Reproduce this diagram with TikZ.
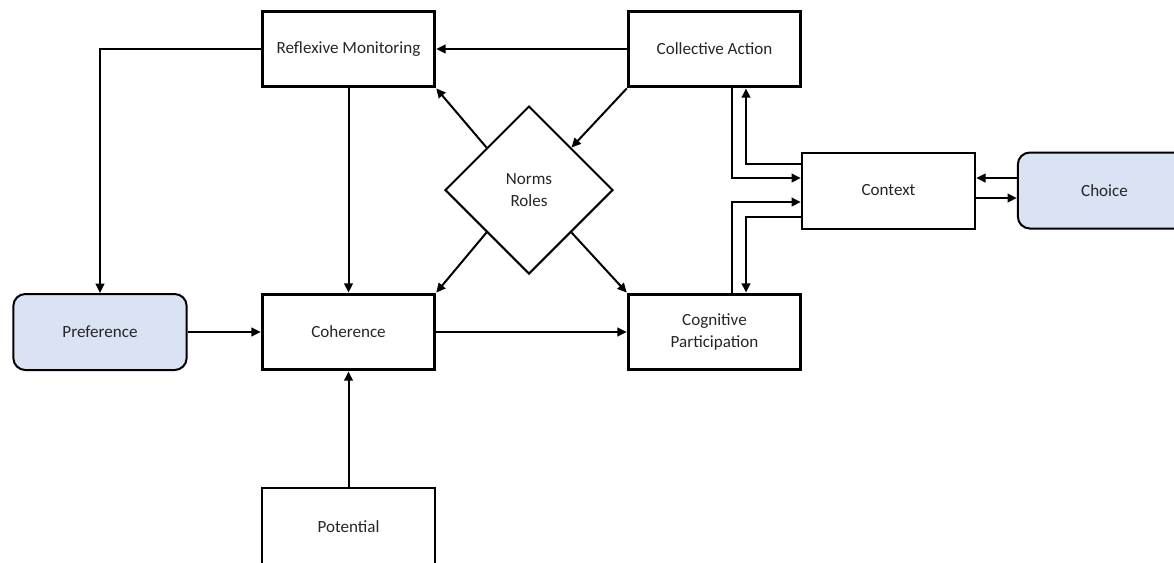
\documentclass[tikz,border=0pt]{standalone}
\usepackage{fontspec}
\setmainfont{Carlito}
\usetikzlibrary{shapes.geometric,arrows.meta,calc}
\definecolor{paleblue}{HTML}{DAE3F3}
\definecolor{ink}{HTML}{262626}
\begin{document}
\begin{tikzpicture}[x=0.75pt,y=-0.75pt,
  every node/.style={font=\fontsize{12.8pt}{16pt}\selectfont, text=ink, align=center},
  mainbox/.style={draw, line width=2.6pt, minimum width=129pt, minimum height=56.5pt, inner sep=0pt},
  plainbox/.style={draw, line width=1.5pt, minimum width=130pt, minimum height=57pt, inner sep=0pt},
  userbox/.style={plainbox, fill=paleblue, rounded corners=9pt},
  normbox/.style={draw, line width=1.5pt, shape=diamond, aspect=1, minimum size=126pt, inner sep=0pt},
  conn/.style={line width=1.5pt, -{Triangle[length=7pt,width=6.5pt]}}
]
\useasboundingbox (0,0) rectangle (1174,562);
\clip (0,0) rectangle (1174,562);

% main NPT constructs
\node[mainbox] (rm)  at (348.5,49)  {Reflexive Monitoring};
\node[mainbox] (ca)  at (714.5,49)  {Collective Action};
\node[mainbox] (coh) at (348.5,332) {Coherence};
\node[mainbox] (cp)  at (714.5,332) {Cognitive\\Participation};

% surrounding factors
\node[plainbox, minimum height=58.5pt, anchor=north] (pot) at (348.5,486.5) {Potential};
\node[plainbox] (ctx) at (888.5,190.5) {Context};
\node[userbox]  (choice) at (1104.5,190.5) {Choice};
\node[userbox]  (pref)   at (100,332)      {Preference};
\node[normbox]  (nr)     at (529,190)      {Norms\\Roles};

% links between constructs
\draw[conn] (ca.west) -- (rm.east);
\draw[conn] (rm.west) -| (pref.north);
\draw[conn] (rm.south) -- (coh.north);
\draw[conn] (pref.east) -- (coh.west);
\draw[conn] (coh.east) -- (cp.west);
\draw[conn] (pot.north) -- (coh.south);

% norms and roles
\draw[conn] ($(nr.west)!0.5!(nr.north)$) -- (rm.south east);
\draw[conn] (ca.south west) -- ($(nr.east)!0.5!(nr.north)$);
\draw[conn] ($(nr.west)!0.5!(nr.south)$) -- (coh.north east);
\draw[conn] ($(nr.east)!0.5!(nr.south)$) -- (cp.north west);

% context loops
\draw[conn] ($(ca.south)+(17.5,0)$) |- ($(ctx.west)+(0,-12.5)$);
\draw[conn] ($(ctx.west)+(0,-26.5)$) -| ($(ca.south)+(31.5,0)$);
\draw[conn] ($(cp.north)+(17.5,0)$) |- ($(ctx.west)+(0,11.5)$);
\draw[conn] ($(ctx.west)+(0,26.5)$) -| ($(cp.north)+(31.5,0)$);

% context and choice
\draw[conn] ($(choice.west)+(0,-12.5)$) -- ($(ctx.east)+(0,-12.5)$);
\draw[conn] ($(ctx.east)+(0,7.5)$) -- ($(choice.west)+(0,7.5)$);
\end{tikzpicture}
\end{document}
